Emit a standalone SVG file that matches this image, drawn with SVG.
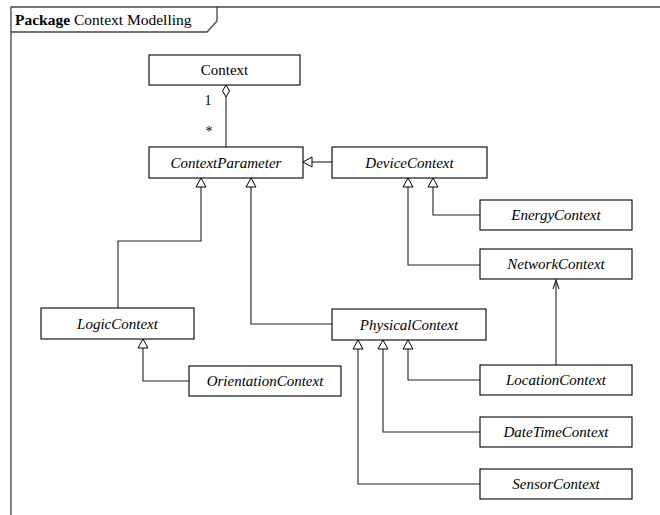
<svg xmlns="http://www.w3.org/2000/svg" width="660" height="515" viewBox="0 0 660 515">
  <style>
    .box { fill: #ffffff; stroke: #000000; stroke-width: 1.1; }
    .lbl { font-style: italic; font-size: 15px; fill: #000000; text-anchor: middle; }
    .upright { font-style: normal; }
    .edge { fill: none; stroke: #222222; stroke-width: 1.1; }
    .tri { fill: #ffffff; stroke: #000000; stroke-width: 1; }
    .frame { fill: none; stroke: #444444; stroke-width: 1.3; }
    .title { font-size: 15.5px; fill: #000000; }
    .mult { font-size: 14px; fill: #000000; text-anchor: middle; }
  </style>
  <defs>
    <!-- hollow generalization triangle, tip at origin pointing up -->
    <polygon id="gen" class="tri" points="0,0 -5,9 5,9"/>
  </defs>
  <rect width="660" height="515" fill="#ffffff"/>

  <g font-family="'Liberation Serif', 'Times New Roman', 'DejaVu Serif', serif">
  <!-- package frame -->
  <g id="frame">
    <path class="frame" d="M11,515 V7 H660"/>
    <path class="frame" d="M11,32 H207 L217,21 V7"/>
    <text class="title" x="15" y="25"><tspan font-weight="bold">Package</tspan> Context Modelling</text>
  </g>

  <!-- connectors -->
  <g id="connectors">
    <!-- aggregation Context <>- ContextParameter -->
    <path class="edge" d="M226,97 V147"/>
    <polygon class="tri" points="226,85 222.5,91 226,97 229.5,91"/>
    <text class="mult" x="208" y="105">1</text>
    <text class="mult" x="209" y="136">*</text>

    <!-- DeviceContext -> ContextParameter -->
    <path class="edge" d="M332,162 H312"/>
    <polygon class="tri" points="303,162 312,157 312,167"/>

    <!-- LogicContext -> ContextParameter -->
    <path class="edge" d="M118,308 V241 H201 V187"/>
    <use href="#gen" x="201" y="178"/>

    <!-- PhysicalContext -> ContextParameter -->
    <path class="edge" d="M332,324 H251 V187"/>
    <use href="#gen" x="251" y="178"/>

    <!-- EnergyContext -> DeviceContext -->
    <path class="edge" d="M480,215 H433 V187"/>
    <use href="#gen" x="433" y="178"/>

    <!-- NetworkContext -> DeviceContext -->
    <path class="edge" d="M480,265 H408 V187"/>
    <use href="#gen" x="408" y="178"/>

    <!-- LocationContext -> NetworkContext (association) -->
    <path class="edge" d="M556,365 V280"/>
    <path class="edge" d="M553,289 L556,280 L559,289"/>

    <!-- OrientationContext -> LogicContext -->
    <path class="edge" d="M189,381 H143 V348"/>
    <use href="#gen" x="143" y="339"/>

    <!-- LocationContext -> PhysicalContext -->
    <path class="edge" d="M480,380 H408 V349"/>
    <use href="#gen" x="408" y="340"/>

    <!-- DateTimeContext -> PhysicalContext -->
    <path class="edge" d="M480,432 H383 V349"/>
    <use href="#gen" x="383" y="340"/>

    <!-- SensorContext -> PhysicalContext -->
    <path class="edge" d="M480,484 H358 V349"/>
    <use href="#gen" x="358" y="340"/>
  </g>

  <!-- classes -->
  <g id="Context">
    <rect class="box" x="149" y="55" width="151" height="30"/>
    <text class="lbl upright" x="224.5" y="75">Context</text>
  </g>
  <g id="ContextParameter">
    <rect class="box" x="149" y="147" width="154" height="31"/>
    <text class="lbl" x="226" y="167.5">ContextParameter</text>
  </g>
  <g id="DeviceContext">
    <rect class="box" x="332" y="147" width="155" height="31"/>
    <text class="lbl" x="409.5" y="167.5">DeviceContext</text>
  </g>
  <g id="EnergyContext">
    <rect class="box" x="480" y="200" width="152" height="30"/>
    <text class="lbl" x="556" y="220">EnergyContext</text>
  </g>
  <g id="NetworkContext">
    <rect class="box" x="480" y="249" width="152" height="30"/>
    <text class="lbl" x="556" y="269">NetworkContext</text>
  </g>
  <g id="LogicContext">
    <rect class="box" x="41" y="308" width="153" height="31"/>
    <text class="lbl" x="117.5" y="328.5">LogicContext</text>
  </g>
  <g id="PhysicalContext">
    <rect class="box" x="332" y="309" width="154" height="31"/>
    <text class="lbl" x="409" y="329.5">PhysicalContext</text>
  </g>
  <g id="OrientationContext">
    <rect class="box" x="189" y="366" width="152" height="30"/>
    <text class="lbl" x="265" y="386">OrientationContext</text>
  </g>
  <g id="LocationContext">
    <rect class="box" x="480" y="365" width="152" height="30"/>
    <text class="lbl" x="556" y="385">LocationContext</text>
  </g>
  <g id="DateTimeContext">
    <rect class="box" x="480" y="417" width="152" height="30"/>
    <text class="lbl" x="556" y="437">DateTimeContext</text>
  </g>
  <g id="SensorContext">
    <rect class="box" x="480" y="469" width="152" height="30"/>
    <text class="lbl" x="556" y="489">SensorContext</text>
  </g>
  </g>
</svg>
